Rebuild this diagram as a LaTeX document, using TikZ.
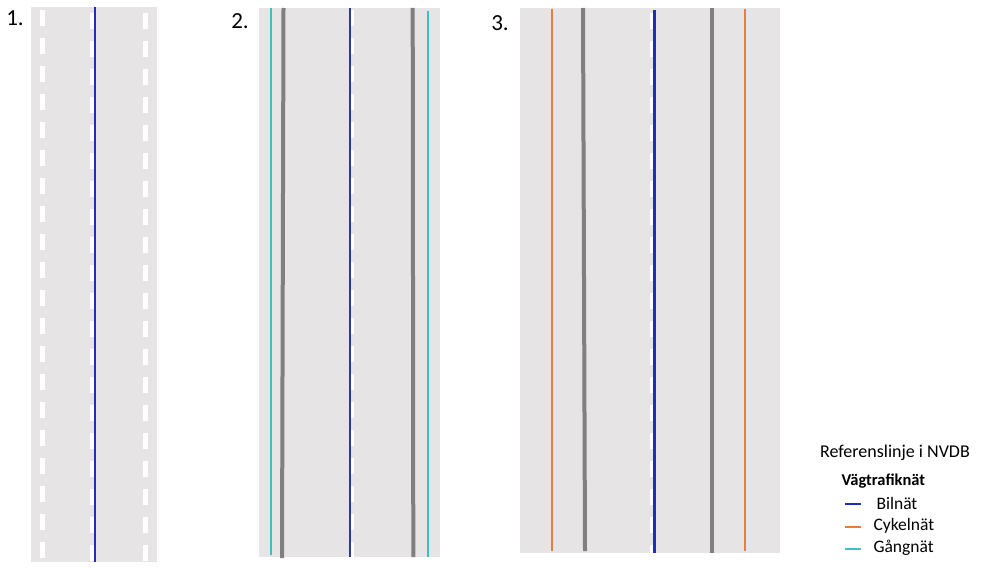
\documentclass[tikz,border=0pt]{standalone}
\usepackage{fontspec}
\setmainfont{Carlito}
\usepackage{tikz}
\usetikzlibrary{positioning}
\definecolor{vag}{HTML}{E6E4E5}
\definecolor{bil}{HTML}{1F30B8}
\definecolor{bilm}{HTML}{2B3A98}
\definecolor{cykel}{HTML}{EB7D3A}
\definecolor{gang}{HTML}{3CC0C8}
\definecolor{kant}{HTML}{808080}

\begin{document}
\begin{tikzpicture}[x=1pt,y=-1pt,
  road/.style={fill=vag,draw=none},
  mitt/.style={white,line width=4.5pt,dash pattern=on 16pt off 12pt},
  bilnat/.style={bil,line width=2.8pt},
  cykelnat/.style={cykel,line width=2.4pt},
  gangnat/.style={gang,line width=2.4pt},
  kantlinje/.style={kant,line width=4pt},
  nr/.style={font=\fontsize{23}{25}\selectfont},
  post/.style={font=\fontsize{17.5}{19}\selectfont,anchor=west}]
\useasboundingbox (0,0) rectangle (981,567);

% 1. blandtrafik
\fill[road] (31,7.5) rectangle (157,562);
\draw[mitt] (42.5,10) -- (42.5,562);
\draw[mitt] (145.5,13) -- (145.5,562);
\draw[mitt,line width=4pt] (91.7,13) -- (91.7,562);
\draw[bilnat] (95,7.5) -- (95,562);
\node[nr] (n1) at (15,18) {1.};

% 2. gångbana
\fill[road] (259,8) rectangle (440,557);
\draw[mitt,line width=3pt] (352.5,10) -- (352.5,557);
\draw[bilnat,bilm] (350,8) -- (350,557);
\draw[kantlinje] (283.5,8) -- (282,558);
\draw[kantlinje] (412.7,8) -- (413.3,557);
\draw[gangnat] (271,8) -- (271,555);
\draw[gangnat] (428,11) -- (428,557);
\node[nr] (n2) at (240,21) {2.};

% 3. cykelbana
\fill[road] (520,8) rectangle (780,552.5);
\draw[mitt,line width=4pt] (651.7,13) -- (651.7,552.5);
\draw[bilnat] (654.8,10) -- (654.8,552.5);
\draw[kantlinje] (583,8) -- (585,551);
\draw[kantlinje] (712,8) -- (712,553);
\draw[cykelnat] (552,9) -- (552,551);
\draw[cykelnat] (745,9) -- (745,551);
\node[nr] (n3) at (500,23) {3.};

% teckenförklaring
\node[font=\fontsize{18}{20}\selectfont] (rubrik) at (895,453) {Referenslinje i NVDB};
\node[font=\fontsize{16.5}{18}\selectfont\bfseries,anchor=west] (natverk) at (838,481) {Vägtrafiknät};
\coordinate (l1) at (845,504);
\coordinate (l2) at (845,527);
\coordinate (l3) at (845,549);
\draw[bilnat,line width=2.2pt] (l1) -- ++(16,0);
\draw[cykelnat,line width=2.2pt] (l2) -- ++(16,0);
\draw[gangnat,line width=2.2pt] (l3) -- ++(16,0);
\node[post] (t1) at (873,503) {Bilnät};
\node[post] (t2) at (870,526) {Cykelnät};
\node[post] (t3) at (870,548) {Gångnät};
\end{tikzpicture}
\end{document}
